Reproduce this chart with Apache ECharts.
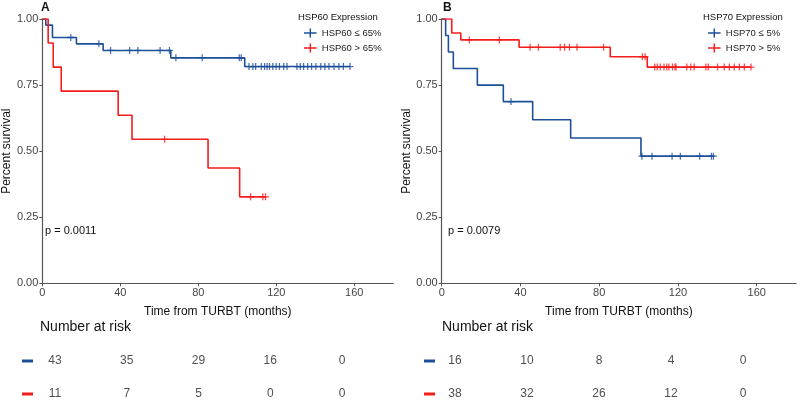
<!DOCTYPE html>
<html lang="en">
<head>
<meta charset="UTF-8">
<title>KM curves</title>
<script src="https://cdn.jsdelivr.net/npm/echarts@6/dist/echarts.min.js"></script>
<style>
  body { margin: 0; background: #fff; }
  #main { width: 800px; height: 402px; }
</style>
</head>
<body>
<div id="main"></div>
<script>
// panel A: HSP60
var aLowTimes = [0, 1.8, 5.2, 17.5, 31.2, 65.9, 103.8, 157.8];
var aLowSurv = [1, 0.977, 0.930, 0.906, 0.881, 0.853, 0.820, 0.820];
var aLowCens = [14.6, 29, 35, 44.8, 49, 60.4, 65.2, 68.5, 82, 101, 102, 106, 108, 109.4, 112.3, 114, 115.3, 116.5,
  118.2, 119.9, 121.6, 123.8, 125.5, 130.6, 132.3, 134, 136.1, 138.1, 140.3, 142.8, 144.9, 147, 149.6, 152.1, 154.4, 157.8];
var aHighTimes = [0, 3, 5.6, 9.7, 38.9, 46, 85, 101.2, 114.5];
var aHighSurv = [1, 0.909, 0.818, 0.727, 0.636, 0.545, 0.436, 0.327, 0.327];
var aHighCens = [62.7, 106.8, 113.1, 114.5];

// panel B: HSP70
var bLowTimes = [0, 2, 3.4, 5.9, 18.1, 31.3, 46.2, 65.5, 101.2, 138];
var bLowSurv = [1, 0.9375, 0.875, 0.8125, 0.75, 0.6875, 0.619, 0.55, 0.481, 0.481];
var bLowCens = [35.2, 101.7, 106.8, 117, 121.2, 131, 137, 138];
var bHighTimes = [0, 5.1, 9.7, 39.3, 85.6, 104.4, 157.1];
var bHighSurv = [1, 0.947, 0.921, 0.893, 0.857, 0.818, 0.818];
var bHighCens = [14, 29.3, 44.9, 49.1, 60.2, 62.4, 64.9, 68.7, 82.2, 101.9, 103.3, 108.2, 109.5, 111, 112.9, 114.3,
  115.4, 117.2, 118.5, 119, 124.5, 126.5, 128.2, 134.2, 135.4, 140.1, 143.5, 146.1, 148.6, 151.2, 153.7, 157.1];

// number at risk
var riskTimes = [0, 40, 80, 120, 160];
var aRiskLow = [43, 35, 29, 16, 0];
var aRiskHigh = [11, 7, 5, 0, 0];
var bRiskLow = [16, 10, 8, 4, 0];
var bRiskHigh = [38, 32, 26, 12, 0];
var xTicks = [0, 40, 80, 120, 160];
var yTicks = [0, 0.25, 0.5, 0.75, 1];

var BLUE = '#1d4f98';
var RED = '#f51c1c';
var FONT = 'Liberation Sans, Arial, sans-serif';
var cross = 'path://M4.1,0H5.9V10H4.1Z M0,4.1H10V5.9H0Z';
var legIcon = 'path://M0,4.2H14V5.8H0Z M6.2,0H7.8V10H6.2Z';

function pairs(t, s) {
  return t.map(function (v, i) { return [v, s[i]]; });
}
// survival value of the curve at a censor time (last step at or before it)
function survAt(times, surv, t) {
  var v = surv[0];
  for (var i = 0; i < times.length; i++) { if (times[i] <= t) v = surv[i]; }
  return v;
}
function censPts(times, surv, cens) {
  return cens.map(function (t) { return [t, survAt(times, surv, t)]; });
}

var myChart = echarts.init(document.getElementById('main'));

function plotAxes(idx) {
  return {
    x: {
      type: 'value', gridIndex: idx, min: 0, max: 180,
      name: 'Time from TURBT (months)', nameLocation: 'middle', nameGap: 22,
      nameTextStyle: { fontFamily: FONT, fontSize: 12, color: '#111' },
      axisLine: { lineStyle: { color: '#555', width: 1.2 } },
      axisTick: { customValues: xTicks, length: 3, lineStyle: { color: '#555' } },
      axisLabel: { customValues: xTicks, fontFamily: FONT, fontSize: 11, color: '#444', margin: 4 },
      splitLine: { show: false }
    },
    y: {
      type: 'value', gridIndex: idx, min: 0, max: 1,
      name: 'Percent survival', nameLocation: 'middle', nameGap: 25,
      nameTextStyle: { fontFamily: FONT, fontSize: 12, color: '#111' },
      axisLine: { show: true, lineStyle: { color: '#555', width: 1.2 } },
      axisTick: { show: true, customValues: yTicks, length: 3, lineStyle: { color: '#555' } },
      axisLabel: {
        customValues: yTicks, fontFamily: FONT, fontSize: 11, color: '#444', margin: 4,
        formatter: function (v) { return v.toFixed(2); }
      },
      splitLine: { show: false }
    }
  };
}
function riskAxes(idx) {
  return {
    x: { type: 'value', gridIndex: idx, min: 0, max: 160, show: false },
    y: { type: 'value', gridIndex: idx, min: 0, max: 1, show: false }
  };
}

var pA = plotAxes(0), pB = plotAxes(1), rA = riskAxes(2), rB = riskAxes(3);

function kmLine(name, color, x, t, s) {
  return {
    name: name, type: 'line', step: 'end', xAxisIndex: x, yAxisIndex: x,
    data: pairs(t, s), showSymbol: false, symbol: 'none',
    lineStyle: { color: color, width: 1.6 }, itemStyle: { color: color }, silent: true
  };
}
function kmCens(name, color, x, t, s, c) {
  return {
    name: name, type: 'scatter', xAxisIndex: x, yAxisIndex: x,
    data: censPts(t, s, c), symbol: cross, symbolSize: 7,
    itemStyle: { color: color }, silent: true
  };
}
function riskRow(x, vals, yv) {
  return {
    type: 'scatter', xAxisIndex: x, yAxisIndex: x, symbolSize: 0,
    data: riskTimes.map(function (t, i) { return [t, yv, vals[i]]; }),
    label: {
      show: true, position: 'inside', fontFamily: FONT, fontSize: 12, color: '#222',
      formatter: function (p) { return p.value[2]; }
    },
    silent: true
  };
}
function txt(s, left, top, size, bold) {
  return {
    text: s, left: left, top: top, padding: 0,
    textStyle: { fontFamily: FONT, fontSize: size, fontWeight: bold ? 'bold' : 'normal', color: '#111' }
  };
}

var option = {
  animation: false,
  backgroundColor: '#fff',
  grid: [
    { left: 39.7, top: 19, width: 353.6, height: 264.3 },
    { left: 441.7, top: 19, width: 354.4, height: 264.3 },
    { left: 55, top: 360.7, width: 287, height: 33.3 },
    { left: 455, top: 360.7, width: 288, height: 33.3 }
  ],
  xAxis: [pA.x, pB.x, rA.x, rB.x],
  yAxis: [pA.y, pB.y, rA.y, rB.y],
  title: [
    txt('A', 41, 2, 12, true),
    txt('B', 443, 2, 12, true),
    txt('HSP60 Expression', 298, 12, 9.5),
    txt('HSP70 Expression', 703, 12, 9.5),
    txt('p = 0.0011', 45, 225, 11),
    txt('p = 0.0079', 448, 225, 11),
    txt('Number at risk', 40, 320, 14),
    txt('Number at risk', 442, 320, 14)
  ],
  legend: [
    {
      left: 299, top: 23, orient: 'vertical', itemWidth: 13, itemHeight: 9, itemGap: 5,
      data: [{ name: 'HSP60 ≤ 65%', icon: legIcon }, { name: 'HSP60 > 65%', icon: legIcon }],
      textStyle: { fontFamily: FONT, fontSize: 9.5, color: '#222' }, selectedMode: false
    },
    {
      left: 703, top: 23, orient: 'vertical', itemWidth: 13, itemHeight: 9, itemGap: 5,
      data: [{ name: 'HSP70 ≤ 5%', icon: legIcon }, { name: 'HSP70 > 5%', icon: legIcon }],
      textStyle: { fontFamily: FONT, fontSize: 9.5, color: '#222' }, selectedMode: false
    }
  ],
  graphic: [
    { type: 'rect', left: 22, top: 359.5, shape: { width: 11, height: 3 }, style: { fill: BLUE } },
    { type: 'rect', left: 22, top: 392.5, shape: { width: 11, height: 3 }, style: { fill: RED } },
    { type: 'rect', left: 424, top: 359.5, shape: { width: 11, height: 3 }, style: { fill: BLUE } },
    { type: 'rect', left: 424, top: 392.5, shape: { width: 11, height: 3 }, style: { fill: RED } }
  ],
  series: [
    kmLine('HSP60 ≤ 65%', BLUE, 0, aLowTimes, aLowSurv),
    kmCens('HSP60 ≤ 65%', BLUE, 0, aLowTimes, aLowSurv, aLowCens),
    kmLine('HSP60 > 65%', RED, 0, aHighTimes, aHighSurv),
    kmCens('HSP60 > 65%', RED, 0, aHighTimes, aHighSurv, aHighCens),
    kmLine('HSP70 ≤ 5%', BLUE, 1, bLowTimes, bLowSurv),
    kmCens('HSP70 ≤ 5%', BLUE, 1, bLowTimes, bLowSurv, bLowCens),
    kmLine('HSP70 > 5%', RED, 1, bHighTimes, bHighSurv),
    kmCens('HSP70 > 5%', RED, 1, bHighTimes, bHighSurv, bHighCens),
    riskRow(2, aRiskLow, 1),
    riskRow(2, aRiskHigh, 0),
    riskRow(3, bRiskLow, 1),
    riskRow(3, bRiskHigh, 0)
  ]
};
myChart.setOption(option);
</script>
</body>
</html>
